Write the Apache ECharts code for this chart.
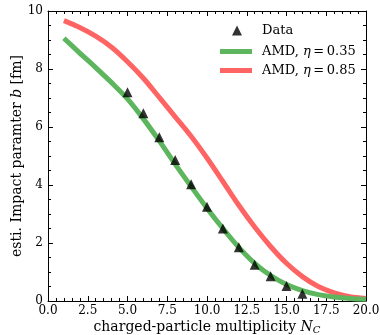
<!DOCTYPE html>
<html><head><meta charset="utf-8">
<script src="https://cdn.jsdelivr.net/npm/echarts@6/dist/echarts.min.js"></script>
<style>html,body{margin:0;padding:0;background:#fff}#c{width:380px;height:335px}</style>
</head><body><div id="c"></div>
<script>
const dataX = [5, 6, 7, 8, 9, 10, 11, 12, 13, 14, 15, 16];
const dataB = [7.2, 6.47, 5.65, 4.86, 4.03, 3.25, 2.5, 1.85, 1.25, 0.85, 0.52, 0.25];
const amdX = [1, 2, 3, 4, 5, 6, 7, 8, 9, 10, 11, 12, 13, 14, 15, 16, 17, 18, 19, 20];
const amd035 = [9.06, 8.55, 8.05, 7.53, 6.97, 6.28, 5.52, 4.72, 3.95, 3.2, 2.5, 1.85, 1.3, 0.88, 0.57, 0.36, 0.22, 0.14, 0.09, 0.06];
const amd085 = [9.67, 9.43, 9.13, 8.75, 8.25, 7.68, 7.02, 6.35, 5.68, 4.93, 4.12, 3.3, 2.55, 1.88, 1.3, 0.84, 0.5, 0.28, 0.15, 0.09];
const xTicks = [0, 2.5, 5, 7.5, 10, 12.5, 15, 17.5, 20];
const yTicks = [0, 2, 4, 6, 8, 10];

const F = 'DejaVu Serif';
const nameData = 'Data';
const name035 = 'AMD, η = 0.35';
const name085 = 'AMD, η = 0.85';
const zip = (xs, ys) => xs.map((x, i) => [x, ys[i]]);

const tickStyle = {show: true, inside: true, length: 5, lineStyle: {color: '#000', width: 1}};
const minorStyle = {show: true, length: 3, lineStyle: {color: '#000', width: 1}};
const lineAx = {show: true, onZero: false, lineStyle: {color: '#000', width: 1}};

const legendRich = {
  n: {fontFamily: F, fontSize: 13, color: '#000'},
  e: {fontFamily: F, fontSize: 13, fontStyle: 'italic', color: '#000'}
};
const legendFmt = n => {
  if (n === nameData) return '{n|Data}';
  const v = n.split('= ')[1];
  return '{n|AMD, }{e|η}{n|\u2009=\u2009' + v + '}';
};

const chart = echarts.init(document.getElementById('c'), null, {renderer: 'canvas'});
chart.setOption({
  animation: false,
  backgroundColor: '#fff',
  grid: {left: 48, right: 14, top: 11, bottom: 34, containLabel: false, outerBoundsMode: 'none'},
  legend: [
    {data: [{name: nameData, icon: 'triangle'}], left: 227, top: 19, orient: 'vertical',
     itemWidth: 10, itemHeight: 10, formatter: legendFmt,
     textStyle: {rich: legendRich, padding: [0, 0, 0, 15]}},
    {data: [name035, name085], left: 215, top: 40, orient: 'vertical',
     itemWidth: 32, itemHeight: 5, itemGap: 6, formatter: legendFmt, icon: 'rect',
     textStyle: {rich: legendRich, padding: [0, 0, 0, 5]}}
  ],
  xAxis: [
    {type: 'value', min: xTicks[0], max: xTicks[xTicks.length - 1], interval: 2.5,
     axisLine: lineAx, axisTick: tickStyle, minorTick: Object.assign({splitNumber: 5}, minorStyle),
     splitLine: {show: false},
     axisLabel: {fontFamily: F, fontSize: 12, color: '#000', margin: 4, formatter: v => v.toFixed(1)},
     name: '{t|charged-particle multiplicity }{i|N}{s|C}', nameLocation: 'middle', nameGap: 18,
     nameMoveOverlap: false,
     nameTextStyle: {rich: {
       t: {fontFamily: F, fontSize: 14, color: '#000'},
       i: {fontFamily: F, fontSize: 14, fontStyle: 'italic', color: '#000'},
       s: {fontFamily: F, fontSize: 10, fontStyle: 'italic', color: '#000', padding: [6, 0, 0, 0]}
     }}},
    {type: 'value', position: 'top', min: 0, max: 20, interval: 2.5,
     axisLine: lineAx, axisTick: tickStyle, minorTick: Object.assign({splitNumber: 5}, minorStyle),
     splitLine: {show: false}, axisLabel: {show: false}}
  ],
  yAxis: [
    {type: 'value', min: yTicks[0], max: yTicks[yTicks.length - 1], interval: 2,
     axisLine: lineAx, axisTick: tickStyle, minorTick: Object.assign({splitNumber: 4}, minorStyle),
     splitLine: {show: false},
     axisLabel: {fontFamily: F, fontSize: 12, color: '#000', margin: 5},
     name: '{t|esti. Impact paramter }{i|b}{t| [fm]}', nameLocation: 'middle', nameGap: 24,
     nameMoveOverlap: false,
     nameTextStyle: {rich: {
       t: {fontFamily: F, fontSize: 14, color: '#000'},
       i: {fontFamily: F, fontSize: 14, fontStyle: 'italic', color: '#000'}
     }}},
    {type: 'value', position: 'right', min: 0, max: 10, interval: 2,
     axisLine: lineAx, axisTick: tickStyle, minorTick: Object.assign({splitNumber: 4}, minorStyle),
     splitLine: {show: false}, axisLabel: {show: false}}
  ],
  series: [
    {name: nameData, type: 'scatter', data: zip(dataX, dataB), symbol: 'triangle', symbolSize: 10,
     itemStyle: {color: '#000'}, z: 5},
    {name: name035, type: 'line', data: zip(amdX, amd035), smooth: 0.3, showSymbol: false, symbol: 'none',
     lineStyle: {color: '#5db55d', width: 5}, itemStyle: {color: '#5db55d'}, z: 3},
    {name: name085, type: 'line', data: zip(amdX, amd085), smooth: 0.3, showSymbol: false, symbol: 'none',
     lineStyle: {color: '#ff6464', width: 5}, itemStyle: {color: '#ff6464'}, z: 2}
  ]
});
</script></body></html>
